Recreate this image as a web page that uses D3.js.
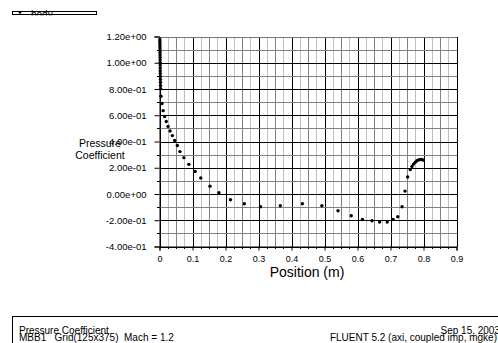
<!DOCTYPE html>
<html><head><meta charset="utf-8">
<script src="https://cdn.jsdelivr.net/npm/d3@7"></script>
<style>body{margin:0;background:#fff}svg{display:block}text{font-family:"Liberation Sans",Arial,sans-serif;fill:#000}</style>
</head><body><svg id="c" width="498" height="343"></svg>
<script>
// Pressure coefficient along body (x position in m, Cp)
const posX = [0.0010,0.0011,0.0012,0.0013,0.0014,0.0015,0.0016,0.0017,0.0018,0.0019,0.0020,0.0021,0.0022,0.0023,0.0024,0.0026,0.0028,0.0030,0.0033,0.0036,
  0.0045,0.0075,0.0110,0.0155,0.0205,0.0260,0.0320,0.0390,0.0460,0.0540,0.0620,0.0740,0.0890,0.1080,0.1250,0.1530,0.1800,0.2150,0.2570,0.3060,0.3660,
  0.4330,0.4920,0.5410,0.5810,0.6150,0.6440,0.6670,0.6900,0.7080,0.7220,0.7350,0.7440,0.7520,0.7600,0.7650,0.7700,0.7750,0.7800,0.7850,0.7900,0.7950,0.7990];
const cp = [1.178,1.162,1.146,1.130,1.113,1.096,1.078,1.060,1.041,1.022,1.002,0.982,0.961,0.940,0.918,0.896,0.873,0.850,0.826,0.802,
  0.745,0.690,0.635,0.590,0.552,0.515,0.480,0.445,0.408,0.369,0.323,0.277,0.226,0.172,0.122,0.060,0.010,-0.044,-0.074,-0.097,-0.090,
  -0.074,-0.090,-0.128,-0.166,-0.194,-0.204,-0.214,-0.214,-0.194,-0.173,-0.097,0.022,0.129,0.186,0.210,0.228,0.242,0.253,0.260,0.263,0.263,0.258];
const yTickVals = [-0.4,-0.2,0,0.2,0.4,0.6,0.8,1.0,1.2];
const yTickLabels = ["-4.00e-01","-2.00e-01","0.00e+00","2.00e-01","4.00e-01","6.00e-01","8.00e-01","1.00e+00","1.20e+00"];
const xTickVals = [0,0.1,0.2,0.3,0.4,0.5,0.6,0.7,0.8,0.9];
const xTickLabels = ["0","0.1","0.2","0.3","0.4","0.5","0.6","0.7","0.8","0.9"];
const seriesName = "body";
const footLeft = ["Pressure Coefficient","MBB1   Grid(125x375)  Mach = 1.2"];
const footRight = ["Sep 15, 2003","FLUENT 5.2 (axi, coupled imp, mgke)"];

const svg = d3.select("#c");
const x = d3.scaleLinear().domain([0,0.9]).range([159.5,456.5]);
const y = d3.scaleLinear().domain([-0.4,1.2]).range([246.5,36.5]);

// grid verticals every 0.025
const g = svg.append("g").attr("shape-rendering","crispEdges");
d3.range(0,37).forEach(i=>{
  const v=i*0.025, k=i%4;
  g.append("line").attr("x1",Math.round(x(v))+0.5).attr("x2",Math.round(x(v))+0.5)
   .attr("y1",y(1.2)).attr("y2",y(-0.4))
   .attr("stroke", k===0 ? "#000" : (k===2 ? "#808080" : "#c0c0c0")).attr("stroke-width",1);
});
// grid horizontals every 0.1
d3.range(0,17).forEach(i=>{
  const v=-0.4+i*0.1, major=i%2===0;
  g.append("line").attr("x1",x(0)).attr("x2",x(0.9))
   .attr("y1",Math.round(y(v))+0.5).attr("y2",Math.round(y(v))+0.5)
   .attr("stroke", i===16 ? "#777" : (major ? "#000" : "#808080")).attr("stroke-width",1);
});

// y axis with custom ticks
const yAxis = d3.axisLeft(y).tickValues(yTickVals).tickSize(5).tickPadding(8)
  .tickFormat((d,i)=>yTickLabels[i]);
const ya = svg.append("g").attr("transform",`translate(${x(0)},0)`).call(yAxis);
ya.select(".domain").attr("stroke","#000");
ya.selectAll("text").style("font-size","9.5px");
ya.selectAll("line").attr("stroke","#000");
// minor y ticks
svg.append("g").attr("shape-rendering","crispEdges").selectAll("line")
  .data(d3.range(0,8).map(i=>-0.3+i*0.2)).join("line")
  .attr("x1",x(0)-3).attr("x2",x(0)).attr("y1",d=>Math.round(y(d))+0.5).attr("y2",d=>Math.round(y(d))+0.5).attr("stroke","#000");

// x axis
const xAxis = d3.axisBottom(x).tickValues(xTickVals).tickSize(4).tickPadding(5)
  .tickFormat((d,i)=>xTickLabels[i]);
const xa = svg.append("g").attr("transform",`translate(0,${y(-0.4)})`).call(xAxis);
xa.select(".domain").attr("stroke","#000");
xa.selectAll("text").style("font-size","9px");
svg.append("g").attr("shape-rendering","crispEdges").selectAll("line")
  .data(d3.range(0,37).filter(i=>i%4!==0).map(i=>i*0.025)).join("line")
  .attr("x1",d=>Math.round(x(d))+0.5).attr("x2",d=>Math.round(x(d))+0.5)
  .attr("y1",y(-0.4)).attr("y2",y(-0.4)+2.5).attr("stroke","#000");

// points
svg.append("g").selectAll("circle").data(posX.map((d,i)=>[d,cp[i]])).join("circle")
  .attr("cx",d=>x(d[0])).attr("cy",d=>y(d[1])).attr("r",1.7).attr("fill","#000");

// axis titles
svg.append("text").attr("x",307).attr("y",277).attr("text-anchor","middle").style("font-size","14px").text("Position (m)");
svg.append("text").attr("x",100).attr("y",147).attr("text-anchor","middle").style("font-size","10.5px").text("Pressure");
svg.append("text").attr("x",100).attr("y",159).attr("text-anchor","middle").style("font-size","10.5px").text("Coefficient");

// legend (clipped box)
svg.append("clipPath").attr("id","lg").append("rect").attr("x",12).attr("y",8).attr("width",86).attr("height",7.5);
const lg = svg.append("g").attr("clip-path","url(#lg)");
lg.append("circle").attr("cx",20).attr("cy",12.5).attr("r",1.3).attr("fill","#000");
lg.append("text").attr("x",31).attr("y",17.5).style("font-size","10px").text(seriesName);
svg.append("rect").attr("x",12.5).attr("y",11.5).attr("width",84).attr("height",3).attr("fill","none").attr("stroke","#000").attr("shape-rendering","crispEdges");

// footer
svg.append("path").attr("d","M12.5,343 V316.5 H498").attr("fill","none").attr("stroke","#000").attr("shape-rendering","crispEdges");
svg.append("text").attr("x",19).attr("y",334).style("font-size","10px").text(footLeft[0]);
svg.append("text").attr("x",19).attr("y",341).style("font-size","10px").style("white-space","pre").text(footLeft[1]);
svg.append("text").attr("x",500).attr("y",334).attr("text-anchor","end").style("font-size","10px").text(footRight[0]);
svg.append("text").attr("x",497).attr("y",341).attr("text-anchor","end").style("font-size","10px").text(footRight[1]);
</script></body></html>
